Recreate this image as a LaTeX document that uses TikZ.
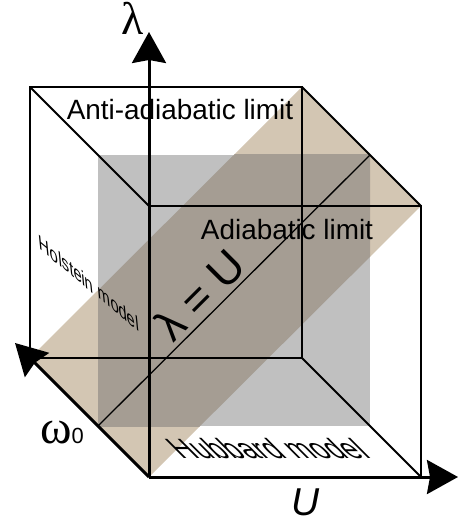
\documentclass[tikz,border=0pt]{standalone}
\usepackage{fontspec}
\setmainfont{Liberation Sans}
\newfontfamily\serifg{Liberation Serif}
\usetikzlibrary{arrows.meta}
\definecolor{tan}{RGB}{211,198,179}
\definecolor{planegray}{RGB}{192,192,192}
\definecolor{overlap}{RGB}{165,157,147}
\tikzset{
  axis/.style={line width=3bp, -{Stealth[length=31bp,width=34bp,inset=3bp]}},
  edge/.style={line width=1.8bp},
  thinline/.style={line width=1.3bp},
  lbl/.style={inner sep=0pt, font=\fontsize{28}{28}\selectfont},
}
\begin{document}
\begin{tikzpicture}[x=1bp,y=-1bp]
\useasboundingbox (0,0) rectangle (459,523);
% coordinates
\coordinate (O) at (149,477);
\coordinate (Ltip) at (149,32);
\coordinate (Utip) at (458,477);
\coordinate (Wtip) at (15,343);
\coordinate (FTL) at (30,87);
\coordinate (FTR) at (302,87);
\coordinate (FBR) at (302,358);
\coordinate (FBL) at (30,358);
\coordinate (BTL) at (149,206);
\coordinate (BTR) at (421,206);
\coordinate (BBR) at (421,477);
\coordinate (G1) at (98,155);
\coordinate (G2) at (370,426);
\coordinate (GBL) at (98,426);
\coordinate (GTR) at (370,155);
% fills
\fill[tan] (FBL) -- (FTR) -- (BTR) -- (O) -- cycle;
\fill[planegray] (G1) rectangle (G2);
\begin{scope}
  \clip (G1) rectangle (G2);
  \fill[overlap] (FBL) -- (FTR) -- (BTR) -- (O) -- cycle;
\end{scope}
% cube edges
\draw[edge] (FTL) -- (FTR) -- (FBR) -- (FBL) -- cycle;
\draw[edge] (FTL) -- (BTL) -- (BTR) -- (BBR);
\draw[edge] (FTR) -- (BTR);
\draw[edge] (FBR) -- (BBR);
\draw[thinline] (GBL) -- (GTR);
% axes
\draw[axis] (O) -- (Ltip);
\draw[axis] (O) -- (Utip);
\draw[axis] (O) -- (Wtip);
% labels
\node[lbl, anchor=base] (anti) at (180,120) {Anti-adiabatic limit};
\node[lbl, anchor=base] (adia) at (287,239) {Adiabatic limit};
\node[inner sep=0pt, rotate=45, font=\fontsize{45}{45}\selectfont] (lu) at (200,295) {λ = U};
\begin{scope}[shift={(89,283)}]
  \node[inner sep=0pt, transform shape, cm={0.72,-0.6,-0.1,1,(0,0)}, font=\fontsize{21}{21}\selectfont] (hol) at (0,0) {Holstein model};
\end{scope}
\begin{scope}[shift={(267,449)}]
  \node[inner sep=0pt, transform shape, cm={1,0,-1,1,(0,0)}, font=\fontsize{28}{28}\selectfont] (hub) at (0,0) {Hubbard model};
\end{scope}
\node[inner sep=0pt, anchor=base west] (w0) at (40,443) {{\serifg\fontsize{48}{48}\selectfont ω}{\fontsize{22}{22}\selectfont 0}};
\node[inner sep=0pt, anchor=base, font=\serifg\fontsize{46}{46}\selectfont] (lam) at (133,35) {λ};
\node[inner sep=0pt, anchor=base, font=\itshape\fontsize{39}{39}\selectfont] (uu) at (306,515) {U};
\end{tikzpicture}
\end{document}
